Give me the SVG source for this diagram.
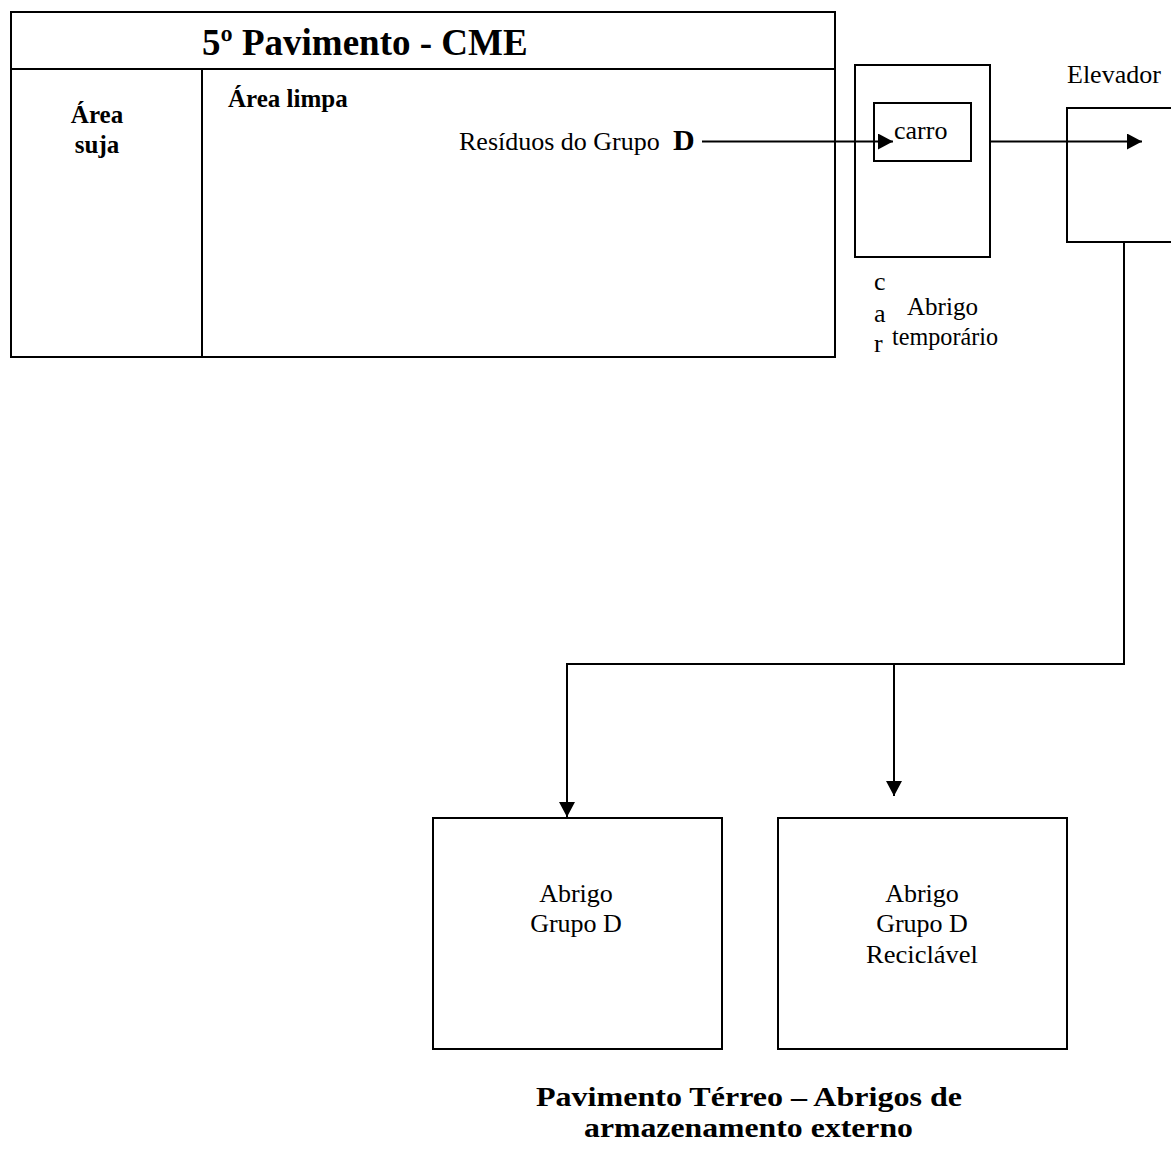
<svg xmlns="http://www.w3.org/2000/svg" width="1171" height="1150" viewBox="0 0 1171 1150" font-family="'Liberation Serif', 'Times New Roman', serif">
  <style>
    .box { fill: #fff; stroke: #000; stroke-width: 2; }
    .wire { fill: none; stroke: #000; stroke-width: 2; }
    .t { font-size: 26px; }
    .b { font-weight: bold; font-size: 25px; }
    .mid { text-anchor: middle; }
    .cap { font-weight: bold; font-size: 28px; }
  </style>
  <defs>
    <marker id="arrow" markerUnits="userSpaceOnUse" markerWidth="16" markerHeight="16" refX="15" refY="8" orient="auto">
      <path d="M0,0 L15,8 L0,16 Z" fill="#000"/>
    </marker>
  </defs>

  <rect width="1171" height="1150" fill="#fff"/>

  <!-- 5th floor table: header row and two areas -->
  <g id="floor5">
    <rect class="box" x="11" y="12" width="824" height="345"/>
    <line class="wire" x1="11" y1="69" x2="835" y2="69"/>
    <line class="wire" x1="202" y1="69" x2="202" y2="357"/>
    <text x="202" y="55" font-weight="bold" font-size="37">5º Pavimento - CME</text>
    <text class="b mid" x="97" y="123">Área</text>
    <text class="b mid" x="97" y="153">suja</text>
    <text class="b" x="228" y="107">Área limpa</text>
    <text class="t" x="459" y="150">Resíduos do Grupo</text>
    <text x="673" y="150" font-weight="bold" font-size="30">D</text>
  </g>

  <!-- temporary shelter -->
  <g id="abrigo-temporario">
    <rect class="box" x="855" y="65" width="135" height="192"/>
    <text class="t" x="874" y="290">c</text>
    <text class="t" x="874" y="322">a</text>
    <text class="t" x="874" y="352">r</text>
    <text class="t" x="907" y="315" textLength="71" lengthAdjust="spacingAndGlyphs">Abrigo</text>
    <text class="t" x="892" y="345" textLength="106" lengthAdjust="spacingAndGlyphs">temporário</text>
  </g>

  <!-- cart inside the shelter -->
  <g id="carro">
    <rect class="box" x="874" y="103" width="97" height="58"/>
    <text class="t" x="894" y="139">carro</text>
  </g>

  <!-- elevator -->
  <g id="elevador">
    <rect class="box" x="1067" y="108" width="120" height="134"/>
    <text class="t" x="1067" y="83">Elevador</text>
  </g>

  <!-- ground floor shelters -->
  <g id="abrigo-grupo-d">
    <rect class="box" x="433" y="818" width="289" height="231"/>
    <text class="t mid" x="576" y="902">Abrigo</text>
    <text class="t mid" x="576" y="932">Grupo D</text>
  </g>

  <g id="abrigo-grupo-d-reciclavel">
    <rect class="box" x="778" y="818" width="289" height="231"/>
    <text class="t mid" x="922" y="902">Abrigo</text>
    <text class="t mid" x="922" y="932">Grupo D</text>
    <text class="t mid" x="922" y="963" textLength="112" lengthAdjust="spacingAndGlyphs">Reciclável</text>
  </g>

  <g id="legenda-terreo">
    <text x="536" y="1106" class="cap" textLength="426" lengthAdjust="spacingAndGlyphs">Pavimento Térreo – Abrigos de</text>
    <text x="584" y="1137" class="cap" textLength="329" lengthAdjust="spacingAndGlyphs">armazenamento externo</text>
  </g>

  <!-- flow of waste -->
  <g id="connectors">
    <path class="wire" d="M702,141.5 H893" marker-end="url(#arrow)"/>
    <path class="wire" d="M990,141.5 H1142" marker-end="url(#arrow)"/>
    <path class="wire" d="M1124,242 V664 H567 V817" marker-end="url(#arrow)"/>
    <path class="wire" d="M894,664 V796" marker-end="url(#arrow)"/>
  </g>
</svg>
